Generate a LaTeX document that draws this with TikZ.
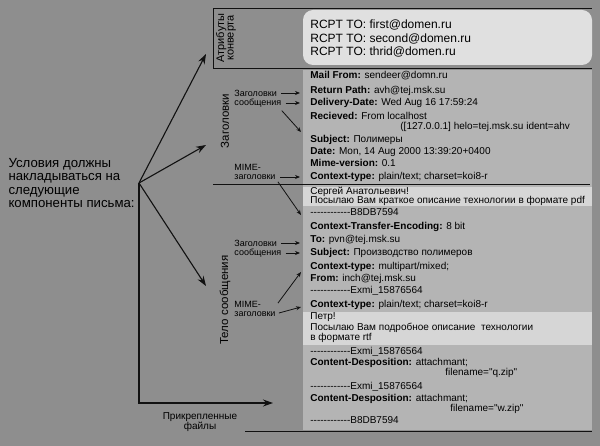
\documentclass[tikz,border=0pt]{standalone}
\usepackage{fontspec}
\newfontfamily\lsans{Liberation Sans}
\usetikzlibrary{arrows.meta, calc}
\definecolor{cbg}{HTML}{8E8E8E}
\definecolor{cpanel}{HTML}{B4B4B4}
\definecolor{clight}{HTML}{D6D6D6}
\definecolor{cenv}{HTML}{E0E0E0}
\definecolor{cink}{HTML}{111111}
\newcommand\fs[2]{\fontsize{#1}{#2}\selectfont}
\newcommand\dashrun{------------}
\tikzset{
  every picture/.style={line width=0.8pt},
  row/.style={anchor=base west, inner sep=0pt, font=\lsans\fs{10}{11}},
  rcpt/.style={anchor=base west, inner sep=0pt, font=\lsans\fs{12}{13}},
  lab/.style={anchor=west, inner sep=0pt, font=\lsans\fs{9}{10}},
  sec/.style={rotate=90, inner sep=0pt, align=center, font=\lsans\fs{11.5}{10}},
  cond/.style={align=left, inner xsep=4pt, font=\lsans\fs{13.2}{13.3}},
  sep/.style={draw=cink, line width=0.8pt},
  bigarr/.style={-{Stealth[length=10pt, width=7pt]}, draw=cink, line width=1.1pt},
  sarr/.style={-{Stealth[length=5pt, width=4pt]}, draw=cink, line width=0.8pt},
}

\begin{document}
\begin{tikzpicture}[x=1pt, y=-1pt]
  \fill[cbg] (0,0) rectangle (600,446);
  \useasboundingbox (0,0) rectangle (600,446);
  % panels
  \fill[cenv, rounded corners=10pt] (303,10) rectangle (592,65);
  \fill[cpanel] (303,70) rectangle (592,430);
  \fill[clight] (303,187) rectangle (592,206);
  \fill[clight] (303,312) rectangle (592,345);
  % separators
  \draw[sep] (213,68) -- (213,8) -- (592,8);
  \draw[sep] (213,68) -- (592,68);
  \draw[sep] (213,184) -- (590,184);
  \draw[sep] (245,431) -- (592,431);

  % envelope
  \node[rcpt] (rcpta) at (310,29) {RCPT TO: first@domen.ru};
  \node[rcpt] (rcptb) at (310,43) {RCPT TO: second@domen.ru};
  \node[rcpt] (rcptc) at (310,56) {RCPT TO: thrid@domen.ru};

  % header rows
  \foreach \nm/\yy/\key/\val in {
    mail/79/{Mail From:}/{sendeer@domn.ru},
    ret/94/{Return Path:}/{avh@tej.msk.su},
    deliv/106/{Delivery-Date:}/{Wed Aug 16 17:59:24},
    recv/120/{Recieved:}/{From localhost},
    subj/143/{Subject:}/{Полимеры},
    date/155/{Date:}/{Mon, 14 Aug 2000 13:39:20+0400},
    mimev/167/{Mime-version:}/{0.1},
    ctype/180/{Context-type:}/{plain/text; charset=koi8-r},
    cte/230/{Context-Transfer-Encoding:}/{8 bit},
    to/243/{To:}/{pvn@tej.msk.su},
    subjb/256/{Subject:}/{Производство полимеров},
    ctmix/270/{Context-type:}/{multipart/mixed;},
    from/282/{From:}/{inch@tej.msk.su},
    ctplain/308/{Context-type:}/{plain/text; charset=koi8-r},
    cda/366/{Content-Desposition:}/{attachmant;},
    cdb/401/{Content-Desposition:}/{attachmant;}}
    \node[row] (\nm) at (310,\yy) {\textbf{\key} \val};
  \node[row] (recvb) at (400,130) {([127.0.0.1] helo=tej.msk.su ident=ahv};
  % body rows
  \node[row] (greet) at (310,195) {Сергей Анатольевич!};
  \node[row] (greetb) at (310,204) {Посылаю Вам краткое описание технологии в формате pdf};
  \node[row] (bnda) at (310,216) {\dashrun B8DB7594};
  \node[row] (bndb) at (310,294) {\dashrun Exmi\_15876564};
  \node[row] (petr) at (310,320) {Петр!};
  \node[row] (petrb) at (310,331) {Посылаю Вам подробное описание\ \ технологии};
  \node[row] (petrc) at (310,341) {в формате rtf};
  \node[row] (bndc) at (310,355) {\dashrun Exmi\_15876564};
  \node[row] (fna) at (445,376) {filename="q.zip"};
  \node[row] (bndd) at (310,389) {\dashrun Exmi\_15876564};
  \node[row] (fnb) at (450,411) {filename="w.zip"};
  \node[row] (bnde) at (310,424) {\dashrun B8DB7594};

  % section labels
  \node[sec, font=\lsans\fs{11}{9.5}] (envsec) at (226,38) {Атрибуты\\конверта};
  \node[sec] (hdrsec) at (225,121) {Заголовки};
  \node[sec] (bodysec) at (225,300) {Тело сообщения};
  \node[lab, anchor=center, align=center, font=\lsans\fs{10}{10}] (attsec) at (200,422) {Прикрепленные\\файлы};

  % small labels
  \foreach \nm/\yy in {hl/93, bl/243} {
    \node[lab] (\nm-a) at (234,\yy) {Заголовки};
    \node[lab] (\nm-b) at (234,\yy+10) {сообщения};
  }
  \foreach \nm/\yy in {ml/167, mm/304} {
    \node[lab] (\nm-a) at (234,\yy) {MIME-};
    \node[lab] (\nm-b) at (234,\yy+10) {заголовки};
  }

  % small arrows
  \coordinate (edge) at (300,0);
  \foreach \nm in {hl-a, hl-b, bl-a, bl-b, ml-b}
    \draw[sarr, shorten <=4pt] (\nm.east) -- (\nm.east -| edge);
  \coordinate (ta) at (301,132);
  \coordinate (tb) at (301,215);
  \coordinate (tc) at (301,272);
  \coordinate (td) at (301,307);
  \draw[sarr] ($(hl-b.south east)+(0,3)$) -- (ta);
  \draw[sarr] ($(ml-b.south east)+(2,2)$) -- (tb);
  \draw[sarr] ($(mm-b.north east)+(2,-8)$) -- (tc);
  \draw[sarr] ($(mm-b.east)+(3,-1)$) -- (td);

  % main statement and big arrows
  \node[cond, anchor=east] (cond) at (139,183) {Условия должны\\накладываться на\\следующие\\компоненты письма:};
  \coordinate (tenv) at (206,54);
  \coordinate (thdr) at (206,145);
  \coordinate (tbody) at (206,286);
  \coordinate (tatt) at (273,403);
  \draw[bigarr] (cond.east) -- (tenv);
  \draw[bigarr] (cond.east) -- (thdr);
  \draw[bigarr] (cond.east) -- (tbody);
  \draw[bigarr] (cond.east) |- (tatt);
\end{tikzpicture}
\end{document}
